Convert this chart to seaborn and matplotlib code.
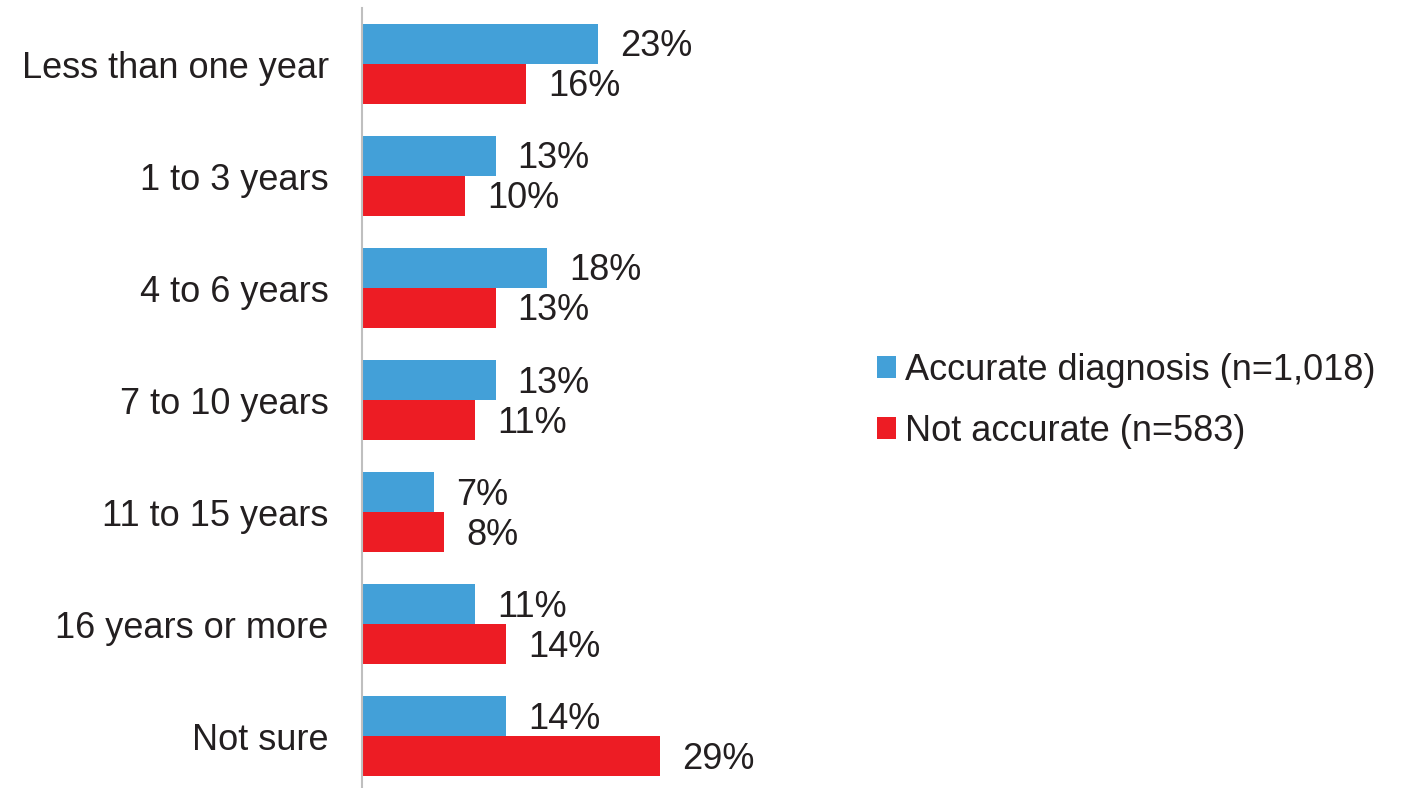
import numpy as np
import pandas as pd
import seaborn as sns
import matplotlib.pyplot as plt

categories = ['Less than one year', '1 to 3 years', '4 to 6 years', '7 to 10 years',
              '11 to 15 years', '16 years or more', 'Not sure']
accurate = [23, 13, 18, 13, 7, 11, 14]
not_accurate = [16, 10, 13, 11, 8, 14, 29]
series = ['Accurate diagnosis (n=1,018)', 'Not accurate (n=583)']

df = pd.DataFrame({
    'category': categories * 2,
    'pct': accurate + not_accurate,
    'group': [series[0]] * len(categories) + [series[1]] * len(categories),
})

sns.set_style('white')
plt.rcParams['font.family'] = ['Liberation Sans', 'DejaVu Sans']
text_col = '#231F20'

fig = plt.figure(figsize=(14.07, 7.88), dpi=100)
# axes: left edge at x=362px, top at 8px, bottom at figure edge
ax = fig.add_axes([362 / 1407, 0, (860 - 362) / 1407, 1 - 8 / 788])

sns.barplot(data=df, x='pct', y='category', hue='group', orient='h',
            palette=['#43A0D8', '#ED1C24'], width=0.714, saturation=1,
            linewidth=0, ax=ax, legend=True)

for cont in ax.containers:
    for t in ax.bar_label(cont, fmt='%d%%', padding=16, fontsize=26, color=text_col):
        x, y = t.xyann
        t.xyann = (x, y - 2)

ax.set_xlim(0, (860 - 362) / 10.27)
ax.set_ylim(6.46, -0.5)
ax.set_xlabel('')
ax.set_ylabel('')
ax.set_xticks([])
ax.tick_params(axis='y', length=0, pad=24, labelsize=26, labelcolor=text_col)
for s in ['top', 'right', 'bottom']:
    ax.spines[s].set_visible(False)
ax.spines['left'].set_color('#BFBFBF')
ax.spines['left'].set_linewidth(1.5)

handles, labels = ax.get_legend_handles_labels()
ax.legend(handles, labels, loc='center left', bbox_to_anchor=(844 / 1407, 1 - 401 / 788),
          bbox_transform=fig.transFigure, frameon=False, fontsize=26,
          handlelength=0.55, handleheight=0.55, handletextpad=0.25,
          labelspacing=0.72, labelcolor=text_col)

fig.savefig('out.png', dpi=100)
